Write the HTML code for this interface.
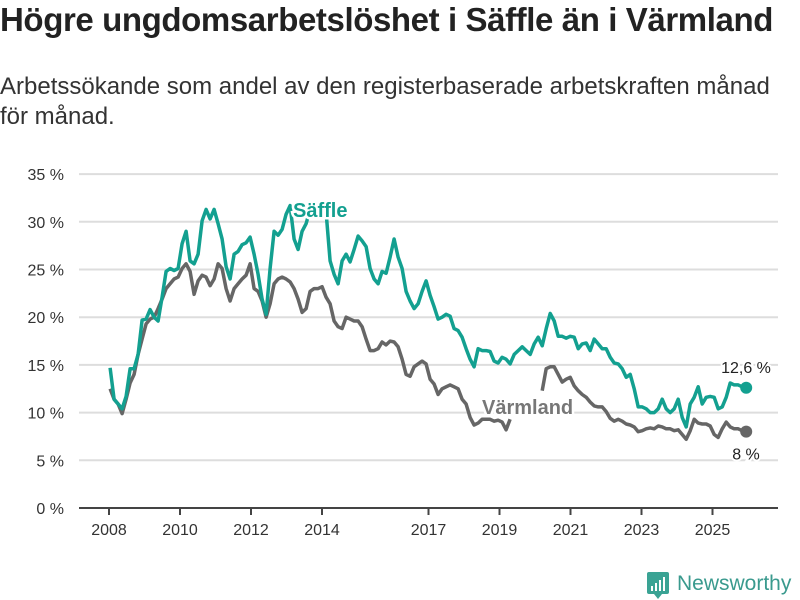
<!DOCTYPE html>
<html><head><meta charset="utf-8">
<style>
body{margin:0;background:#fff;font-family:"Liberation Sans",sans-serif;}
#wrap{position:relative;width:800px;height:600px;overflow:hidden;}
h1{position:absolute;left:0;top:1px;margin:0;font-size:33px;font-weight:bold;color:#222;letter-spacing:-0.4px;white-space:nowrap;}
.sub{position:absolute;left:0;top:72px;margin:0;font-size:24px;line-height:30px;color:#333;width:798px;white-space:nowrap;}
svg{position:absolute;left:0;top:0;}
</style></head><body>
<div id="wrap">
<h1>Högre ungdomsarbetslöshet i Säffle än i Värmland</h1>
<p class="sub">Arbetssökande som andel av den registerbaserade arbetskraften månad<br>för månad.</p>
<svg id="chart" width="800" height="600"></svg>
</div>
<script>
const startYear = 2008.03;
const stepYears = 0.1127;
const saffle = [
14.7,11.4,10.9,10.4,11.7,14.6,14.6,16.1,19.7,19.8,
20.8,20.0,19.6,22.1,24.8,25.1,24.9,25.1,27.7,29.0,
25.9,25.6,26.6,30.1,31.3,30.3,31.3,29.8,28.2,25.3,
24.0,26.6,26.9,27.6,27.8,28.4,26.6,24.5,21.9,20.3,
25.1,29.0,28.6,29.2,30.8,31.7,28.2,27.1,29.0,29.8,
31.3,null,null,null,31.0,25.9,24.5,23.5,25.9,26.6,
25.8,27.1,28.5,28.0,27.4,25.1,24.0,23.5,24.8,24.6,
26.3,28.2,26.3,25.1,22.7,21.7,20.9,21.4,22.7,23.8,
22.3,21.1,19.8,20.0,20.3,20.1,18.8,18.6,17.9,16.7,
15.6,14.8,16.7,16.5,16.5,16.4,15.4,15.2,15.8,15.6,
15.1,16.1,16.5,16.9,16.5,16.1,17.2,17.9,17.0,18.8,
20.4,19.6,18.0,18.0,17.8,18.0,17.9,16.7,17.2,17.3,
16.5,17.7,17.2,16.7,16.7,15.8,15.2,15.1,14.6,13.7,
14.0,12.5,10.6,10.6,10.4,10.0,10.0,10.4,11.4,10.4,
10.0,10.4,11.4,9.5,8.5,10.9,11.6,12.7,10.9,11.6,
11.7,11.6,10.4,10.6,11.6,13.1,12.9,12.9,12.7,12.6];
const varmland = [
12.5,11.4,10.9,9.9,11.4,13.1,14.0,16.1,17.7,19.3,
19.8,20.0,20.9,21.9,23.0,23.5,24.0,24.2,25.1,25.6,
24.8,22.4,23.8,24.4,24.2,23.3,24.0,25.6,25.1,23.0,
21.7,23.0,23.5,24.0,24.4,25.6,23.0,22.7,21.7,20.0,
21.4,23.5,24.0,24.2,24.0,23.7,23.0,21.9,20.5,20.9,
22.7,23.0,23.0,23.2,22.1,21.4,19.6,19.0,18.8,20.0,
19.8,19.6,19.6,19.0,17.7,16.5,16.5,16.7,17.4,17.1,
17.5,17.4,16.9,15.6,14.0,13.8,14.8,15.1,15.4,15.1,
13.5,13.0,11.9,12.5,12.7,12.9,12.7,12.5,11.4,10.9,
9.5,8.7,8.9,9.3,9.3,9.3,9.1,9.2,9.0,8.2,
9.3,null,null,null,null,null,null,null,12.3,14.6,
14.8,14.8,14.0,13.2,13.5,13.7,12.8,12.3,11.9,11.6,
11.1,10.7,10.6,10.6,10.1,9.4,9.1,9.3,9.1,8.8,
8.7,8.5,8.0,8.1,8.3,8.4,8.3,8.6,8.5,8.3,
8.3,8.1,8.2,7.7,7.2,8.1,9.3,8.9,8.8,8.8,
8.6,7.7,7.4,8.3,9.0,8.5,8.3,8.3,8.1,8.0];
const yTicks = [0,5,10,15,20,25,30,35];
const xTicks = [2008,2010,2012,2014,2017,2019,2021,2023,2025];
const endLabels = ["12,6 %","8 %"];

const NS="http://www.w3.org/2000/svg";
const svg=document.getElementById('chart');
const X = y => 109 + (y-2008)*35.5;
const Y = v => 508 - v*9.54;
function mk(tag, attrs, parent){const e=document.createElementNS(NS,tag);for(const k in attrs)e.setAttribute(k,attrs[k]);(parent||svg).appendChild(e);return e;}

yTicks.forEach(t=>{
  if(t>0){const g=mk('line',{x1:79,x2:778,y1:Y(t),y2:Y(t),stroke:'#dddddd','stroke-width':2});
  
  }
  const tx=mk('text',{x:64,y:Y(t)+6,'text-anchor':'end','font-size':16,fill:'#333'});
  tx.textContent=t+' %';
  
  
});
const ax=mk('line',{x1:79,x2:778,y1:508,y2:508,stroke:'#444','stroke-width':2});


xTicks.forEach(t=>{
  const tk=mk('line',{x1:X(t),x2:X(t),y1:508,y2:515,stroke:'#444','stroke-width':2});
  
  
  const tx=mk('text',{x:X(t),y:535,'text-anchor':'middle','font-size':16,fill:'#333'});
  tx.textContent=t;
  
  
});
function path(vals){let d='',pen=false;vals.forEach((v,i)=>{if(v===null){pen=false;return;}d+=(pen?'L':'M')+X(startYear+i*stepYears).toFixed(1)+','+Y(v).toFixed(1);pen=true;});return d;}
const lv=mk('path',{d:path(varmland),fill:'none',stroke:'#666666','stroke-width':3.5,'stroke-linejoin':'round'});


const ls=mk('path',{d:path(saffle),fill:'none',stroke:'#13a090','stroke-width':3.5,'stroke-linejoin':'round'});


const lastX=X(startYear+(saffle.length-1)*stepYears);
const ds=mk('circle',{cx:lastX,cy:Y(saffle[saffle.length-1]),r:6,fill:'#13a090'});


const dv=mk('circle',{cx:lastX,cy:Y(varmland[varmland.length-1]),r:6,fill:'#666666'});


const el1=mk('text',{x:746,y:Y(saffle[saffle.length-1])-15,'text-anchor':'middle','font-size':16,fill:'#222',stroke:'#fff','stroke-width':4,'paint-order':'stroke'});
el1.textContent=endLabels[0];


const el2=mk('text',{x:746,y:Y(varmland[varmland.length-1])+28,'text-anchor':'middle','font-size':16,fill:'#222',stroke:'#fff','stroke-width':4,'paint-order':'stroke'});
el2.textContent=endLabels[1];


const sl=mk('text',{x:293,y:217,'font-size':20,'font-weight':'bold',fill:'#13a090',stroke:'#fff','stroke-width':5,'paint-order':'stroke'});
sl.textContent='Säffle';


const vl=mk('text',{x:482,y:414,'font-size':20,'font-weight':'bold',fill:'#777',stroke:'#fff','stroke-width':5,'paint-order':'stroke'});
vl.textContent='Värmland';


const lg=mk('g',{});


mk('rect',{x:647,y:572,width:22,height:22,rx:2,fill:'#3aa394'},lg);
mk('polygon',{points:'654,594 662,594 658,599',fill:'#3aa394'},lg);
[[651,586,2,5],[655,583,2,8],[659,580,2,11],[663,577,2,14]].forEach(b=>mk('rect',{x:b[0],y:b[1],width:b[2],height:b[3],fill:'#fff'},lg));
const lt=mk('text',{x:677,y:590,'font-size':21,fill:'#3a9a8e'},lg);
lt.textContent='Newsworthy';
</script>
</body></html>
